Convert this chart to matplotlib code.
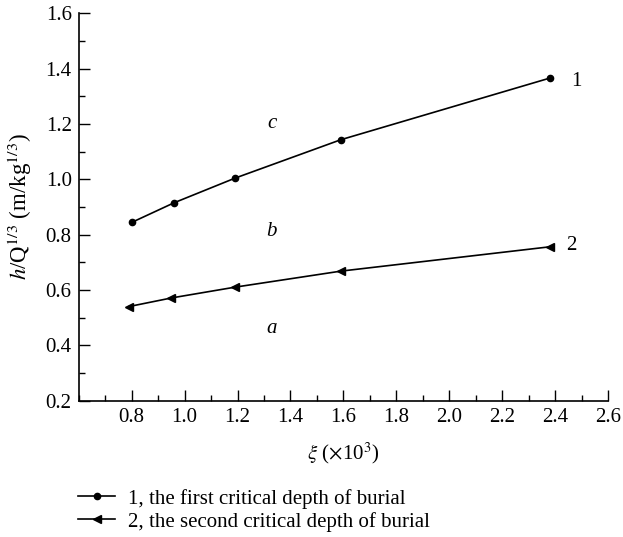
import numpy as np
import matplotlib
matplotlib.use('Agg')
from matplotlib import pyplot as plt
from matplotlib.ticker import MultipleLocator

plt.rcParams['font.family'] = ['Liberation Serif', 'DejaVu Serif']
plt.rcParams['mathtext.fontset'] = 'stix'

# Data
xi_1 = [0.80, 0.96, 1.19, 1.59, 2.38]
h_1 = [0.844, 0.915, 1.004, 1.143, 1.366]
xi_2 = [0.79, 0.95, 1.19, 1.59, 2.38]
h_2 = [0.540, 0.571, 0.610, 0.668, 0.756]

label_1 = '1, the first critical depth of burial'
label_2 = '2, the second critical depth of burial'

fig = plt.figure(figsize=(6.23, 5.37), dpi=100)
ax = fig.add_axes([0.1263, 0.254, 0.8499, 0.7212])

l1, = ax.plot(xi_1, h_1, color='k', lw=1.2, marker='o', ms=4.5, label=label_1)
l2, = ax.plot(xi_2, h_2, color='k', lw=1.2, marker='<', ms=5.5, label=label_2)

# region labels and curve numbers
ax.text(1.33, 1.2, 'c', style='italic', fontsize=15, ha='center', va='center')
ax.text(1.33, 0.81, 'b', style='italic', fontsize=15, ha='center', va='center')
ax.text(1.33, 0.46, 'a', style='italic', fontsize=15, ha='center', va='center')
ax.text(2.48, 1.355, '1', fontsize=15, ha='center', va='center')
ax.text(2.46, 0.76, '2', fontsize=15, ha='center', va='center')

ax.set_xlim(0.6, 2.6)
ax.set_ylim(0.2, 1.6)
ax.xaxis.set_minor_locator(MultipleLocator(0.1))
ax.yaxis.set_major_locator(MultipleLocator(0.2))
ax.yaxis.set_minor_locator(MultipleLocator(0.1))
xt = np.arange(0.8, 2.61, 0.2)
ax.set_xticks(xt)
ax.set_xticklabels(['%.1f' % v for v in xt])
ax.tick_params(which='both', direction='in', width=1.0, labelsize=15, pad=5)
ax.tick_params(which='major', length=8)
ax.tick_params(which='minor', length=4.5)
for s in ['top', 'right']:
    ax.spines[s].set_visible(False)
for s in ['left', 'bottom']:
    ax.spines[s].set_linewidth(1.2)

ax.set_xlabel(r'$\xi$ ($\times$10$^{3}$)', fontsize=15, labelpad=10)
ax.set_ylabel(r'$h$/Q$^{1/3}$ (m/kg$^{1/3}$)', fontsize=16.5)
ax.yaxis.set_label_coords(-0.084, 0.5)

fig.legend(handles=[l1, l2], loc='upper left', bbox_to_anchor=(0.125, 0.09),
           frameon=False, fontsize=15, handlelength=1.8, handletextpad=0.6,
           labelspacing=0.15, borderaxespad=0, borderpad=0)

fig.savefig('out.png', dpi=100)
